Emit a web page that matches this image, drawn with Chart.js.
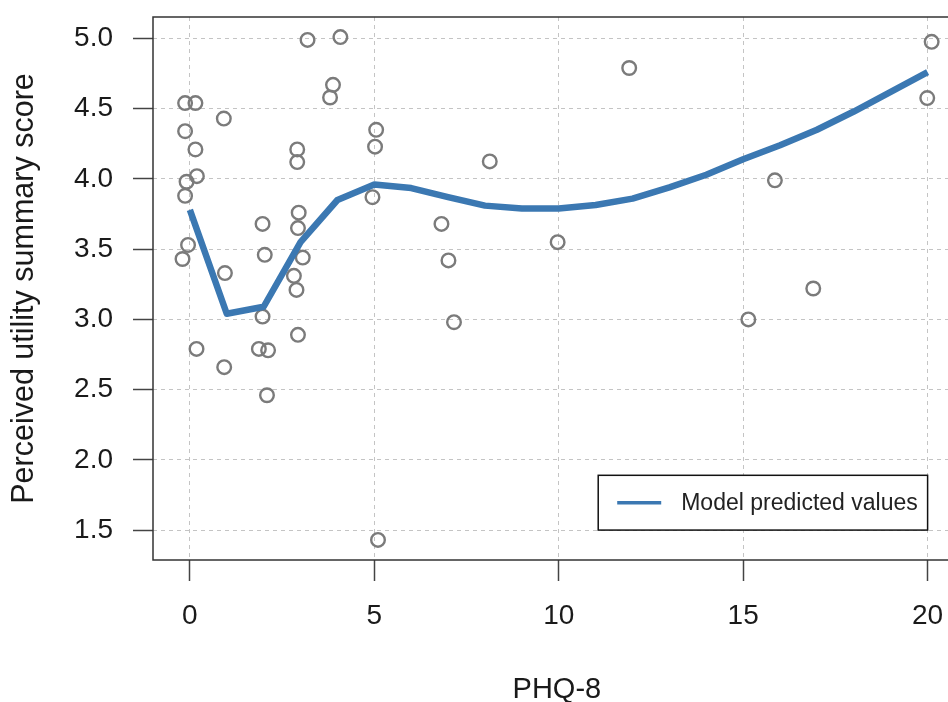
<!DOCTYPE html>
<html>
<head>
<meta charset="utf-8">
<script src="https://cdn.jsdelivr.net/npm/chart.js@4/dist/chart.umd.min.js"></script>
<style>
  html, body { margin: 0; padding: 0; background: #ffffff; overflow: hidden; }
  #wrap { position: absolute; left: 0; top: 0; width: 970px; height: 702px; }
</style>
</head>
<body>
<div id="wrap"><canvas id="c" width="970" height="702"></canvas></div>
<script>
// ---- Data ----
const scatterX = [-0.13, 0.15, -0.13, 0.15, 0.92, 3.19, 4.08, 3.88, 3.80, 2.91, 2.91, 5.05, 5.02,
  0.19, -0.09, -0.13, 4.95, 2.95, 2.93, 1.97, -0.05, -0.20, 0.95, 2.03, 3.06, 2.82, 2.89, 1.97,
  2.93, 0.18, 1.87, 2.12, 0.93, 2.09, 5.10, 8.13, 11.91, 6.82, 7.01, 7.16, 9.97, 20.11, 19.99,
  15.86, 16.90, 15.14];
const scatterY = [4.54, 4.54, 4.34, 4.21, 4.43, 4.99, 5.01, 4.67, 4.58, 4.21, 4.12, 4.35, 4.23,
  4.02, 3.98, 3.88, 3.87, 3.76, 3.65, 3.68, 3.53, 3.43, 3.33, 3.46, 3.44, 3.31, 3.21, 3.02,
  2.89, 2.79, 2.79, 2.78, 2.66, 2.46, 1.43, 4.125, 4.79, 3.68, 3.42, 2.98, 3.55, 4.976, 4.576,
  3.99, 3.22, 3.00];
const modelX = [0, 1, 2, 3, 4, 5, 6, 7, 8, 9, 10, 11, 12, 13, 14, 15, 16, 17, 18, 19, 20];
const modelY = [3.78, 3.04, 3.09, 3.55, 3.85, 3.96, 3.935, 3.87, 3.81, 3.79, 3.79, 3.815, 3.86,
  3.94, 4.03, 4.14, 4.24, 4.35, 4.48, 4.62, 4.76];
const xTickValues = [0, 5, 10, 15, 20];
const yTickValues = [1.5, 2.0, 2.5, 3.0, 3.5, 4.0, 4.5, 5.0];
const seriesLabel = "Model predicted values";
const xTitle = "PHQ-8";
const yTitle = "Perceived utility summary score";

const FONT = "'Liberation Sans', Arial, Helvetica, sans-serif";
const LINE_COLOR = '#3b78b2';
const POINT_COLOR = '#7b7b7b';

const scatterData = scatterX.map((x, i) => ({ x: x, y: scatterY[i] }));
const modelData = modelX.map((x, i) => ({ x: x, y: modelY[i] }));

const boxLegendPlugin = {
  id: 'boxLegend',
  afterDatasetsDraw(chart) {
    const ctx = chart.ctx;
    const a = chart.chartArea;
    ctx.save();
    // plot frame
    ctx.strokeStyle = '#333333';
    ctx.lineWidth = 1.5;
    ctx.setLineDash([]);
    ctx.strokeRect(a.left, a.top, a.right - a.left, a.bottom - a.top);
    // legend box anchored to data scales
    const xs = chart.scales.x, ys = chart.scales.y;
    const bx = xs.getPixelForValue(11.07);
    const bRight = xs.getPixelForValue(20.0);
    const by = ys.getPixelForValue(1.89);
    const bBottom = ys.getPixelForValue(1.5);
    ctx.fillStyle = '#ffffff';
    ctx.fillRect(bx, by, bRight - bx, bBottom - by);
    ctx.strokeStyle = '#111111';
    ctx.lineWidth = 1.5;
    ctx.strokeRect(bx, by, bRight - bx, bBottom - by);
    const midY = (by + bBottom) / 2;
    const ds = chart.data.datasets[0];
    ctx.strokeStyle = ds.borderColor;
    ctx.lineWidth = 3.5;
    ctx.beginPath();
    ctx.moveTo(bx + 19, midY);
    ctx.lineTo(bx + 63, midY);
    ctx.stroke();
    ctx.fillStyle = '#222222';
    ctx.font = '23px ' + FONT;
    ctx.textBaseline = 'middle';
    ctx.textAlign = 'left';
    ctx.fillText(ds.label, bx + 83, midY + 1);
    ctx.restore();
  }
};

new Chart(document.getElementById('c'), {
  type: 'scatter',
  data: {
    datasets: [
      {
        type: 'line',
        label: seriesLabel,
        data: modelData,
        borderColor: LINE_COLOR,
        backgroundColor: LINE_COLOR,
        borderWidth: 6.5,
        pointRadius: 0,
        tension: 0,
        fill: false,
        borderJoinStyle: 'round',
        borderCapStyle: 'butt'
      },
      {
        label: 'Observed',
        data: scatterData,
        pointRadius: 6.8,
        pointBorderWidth: 2.4,
        pointBorderColor: POINT_COLOR,
        pointBackgroundColor: 'rgba(0,0,0,0)',
        showLine: false
      }
    ]
  },
  options: {
    responsive: false,
    animation: false,
    devicePixelRatio: 1,
    layout: { padding: { left: 0, top: 17, right: 8, bottom: 0 } },
    plugins: { legend: { display: false }, tooltip: { enabled: false } },
    scales: {
      x: {
        type: 'linear',
        min: -1.0,
        max: 20.9,
        afterBuildTicks: (s) => { s.ticks = xTickValues.map(v => ({ value: v })); },
        afterFit: (s) => { s.height = 142; s.paddingLeft = 0; s.paddingRight = 0; },
        grid: {
          color: '#c4c4c4',
          lineWidth: 1,
          drawTicks: true,
          tickLength: 21,
          tickColor: '#444444',
          tickWidth: 1.5,
          tickBorderDash: []
        },
        border: { display: false, dash: [4, 4] },
        ticks: {
          color: '#1a1a1a',
          font: { family: FONT, size: 28 },
          padding: 18,
          maxRotation: 0,
          callback: (v) => String(v)
        },
        title: {
          display: true,
          text: xTitle,
          color: '#1a1a1a',
          font: { family: FONT, size: 29, lineHeight: 0.8 },
          padding: { top: 0, bottom: 0 }
        }
      },
      y: {
        type: 'linear',
        min: 1.287,
        max: 5.153,
        afterBuildTicks: (s) => { s.ticks = yTickValues.map(v => ({ value: v })); },
        afterFit: (s) => { s.width = 153; s.paddingTop = 0; s.paddingBottom = 0; },
        grid: {
          color: '#c4c4c4',
          lineWidth: 1,
          drawTicks: true,
          tickLength: 20,
          tickColor: '#444444',
          tickWidth: 1.5,
          tickBorderDash: []
        },
        border: { display: false, dash: [4, 4] },
        ticks: {
          color: '#1a1a1a',
          font: { family: FONT, size: 28 },
          padding: 20,
          callback: (v) => Number(v).toFixed(1)
        },
        title: {
          display: true,
          text: yTitle,
          color: '#1a1a1a',
          font: { family: FONT, size: 30.5, lineHeight: 1 },
          padding: { top: 9, bottom: 0 }
        }
      }
    }
  },
  plugins: [boxLegendPlugin]
});
</script>
</body>
</html>
